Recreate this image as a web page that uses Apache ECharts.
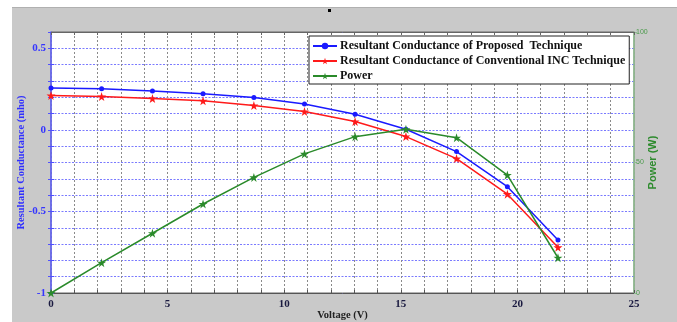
<!DOCTYPE html>
<html>
<head>
<meta charset="utf-8">
<script src="https://cdn.jsdelivr.net/npm/echarts@6/dist/echarts.min.js"></script>
<style>
  html, body { margin: 0; padding: 0; background: #fff; }
  #chart { width: 677px; height: 322px; }
</style>
</head>
<body>
<div id="chart"></div>
<script>
// values
var voltage = [0, 2.17, 4.35, 6.52, 8.7, 10.87, 13.04, 15.22, 17.39, 19.57, 21.74]
var proposed = [0.256, 0.252, 0.239, 0.221, 0.198, 0.158, 0.096, 0.004, -0.133, -0.348, -0.675]
var conventional = [0.21, 0.204, 0.192, 0.178, 0.149, 0.112, 0.051, -0.041, -0.176, -0.394, -0.72]
var power = [0, 11.6, 22.9, 34.1, 44.3, 53.3, 59.9, 62.7, 59.5, 45.2, 13.5]

var seriesNames = [
    'Resultant Conductance of Proposed  Technique',
    'Resultant Conductance of Conventional INC Technique',
    'Power'
]

var star = 'path://M50 0 L61.17 34.63 L97.55 34.55 L68.07 55.87 L79.39 90.45 L50 69 L20.61 90.45 L31.93 55.87 L2.45 34.55 L38.83 34.63 Z'

function pairs(ys) {
    return voltage.map(function (v, i) { return [v, ys[i]] })
}

var serif = '"Liberation Serif", "DejaVu Serif", serif'
var sans = '"Liberation Sans", Arial, sans-serif'

var myChart = echarts.init(document.getElementById('chart'))
myChart.setOption({
    backgroundColor: '#fff',
    animation: false,
    graphic: [
        { type: 'rect', z: -10, shape: { x: 12, y: 7, width: 665, height: 315 }, style: { fill: '#c9c9c9' } },
        { type: 'rect', z: -9, shape: { x: 12, y: 7, width: 665, height: 1 }, style: { fill: '#b0b0b0' } },
        { type: 'rect', shape: { x: 328, y: 9, width: 3, height: 3 }, style: { fill: '#000' } }
    ],
    grid: {
        left: 51, right: 43, top: 32, bottom: 29,
        outerBoundsMode: 'none', containLabel: false,
        show: true, backgroundColor: '#fff', borderColor: '#666', borderWidth: 1
    },
    legend: {
        orient: 'vertical',
        left: 309, top: 36,
        padding: [3, 4, 1, 3],
        itemGap: 1,
        itemWidth: 24, itemHeight: 8,
        backgroundColor: '#fff',
        borderColor: '#222', borderWidth: 1,
        textStyle: { fontFamily: serif, fontWeight: 'bold', fontSize: 12, lineHeight: 14, color: '#111', padding: [0, 0, 0, -2] },
        data: seriesNames
    },
    xAxis: [{
        type: 'value', min: 0, max: 25, interval: 1,
        name: 'Voltage (V)', nameLocation: 'middle', nameGap: 17, nameMoveOverlap: false,
        nameTextStyle: { fontFamily: serif, fontWeight: 'bold', fontSize: 10.5, color: '#222' },
        axisLine: { onZero: false, lineStyle: { color: '#555' } },
        axisTick: { inside: true, length: 3, lineStyle: { color: '#555' } },
        axisLabel: {
            margin: 6, fontFamily: serif, fontWeight: 'bold', fontSize: 11, color: '#1a1a40',
            formatter: function (v) { return v % 5 === 0 ? String(v) : '' }
        },
        splitLine: { show: true, lineStyle: { color: '#8a8a8a', type: [2, 2], width: 1 } }
    }, {
        type: 'value', min: 0, max: 25, interval: 1, position: 'top',
        axisLine: { show: true, onZero: false, lineStyle: { color: '#666' } },
        axisTick: { inside: true, length: 3, lineStyle: { color: '#666' } },
        axisLabel: { show: false },
        splitLine: { show: false }
    }],
    yAxis: [{
        type: 'value', min: -1, max: 0.6, interval: 0.1,
        name: 'Resultant Conductance (mho)', nameLocation: 'middle', nameGap: 24, nameRotate: 90, nameMoveOverlap: false,
        nameTextStyle: { fontFamily: serif, fontWeight: 'bold', fontSize: 10.5, color: '#3030ff' },
        axisLine: { show: true, onZero: false, lineStyle: { color: '#6060ff', width: 1.5 } },
        axisTick: { show: true, inside: true, length: 3, lineStyle: { color: '#5050ff' } },
        axisLabel: {
            margin: 5, fontFamily: serif, fontWeight: 'bold', fontSize: 11, color: '#3535ff',
            showMaxLabel: false,
            formatter: function (v) {
                var r = Math.round(v * 10)
                return r % 5 === 0 ? String(r / 10) : ''
            }
        },
        splitLine: { show: true, lineStyle: { color: '#7a7aff', type: [2, 1.5], width: 1 } }
    }, {
        type: 'value', min: 0, max: 100, interval: 50, position: 'right',
        name: 'Power (W)', nameLocation: 'middle', nameGap: 13, nameRotate: 90, nameMoveOverlap: false,
        nameTextStyle: { fontFamily: sans, fontWeight: 'bold', fontSize: 11, color: '#2e8b2e' },
        axisLine: { show: true, onZero: false, lineStyle: { color: '#8fbf8f', width: 1.5 } },
        axisTick: { show: true, length: 3, lineStyle: { color: '#8fbf8f' } },
        axisLabel: { margin: 2, fontFamily: sans, fontSize: 7, color: '#4a9a4a' },
        splitLine: { show: false }
    }, {
        // mirrored left-axis ticks on the right edge
        type: 'value', min: -1, max: 0.6, interval: 0.1, position: 'right',
        axisLine: { show: false },
        axisTick: { show: true, inside: true, length: 3, lineStyle: { color: '#5050ff' } },
        axisLabel: { show: false },
        splitLine: { show: false }
    }],
    series: [{
        name: seriesNames[0], type: 'line', data: pairs(proposed),
        symbol: 'circle', symbolSize: 5,
        itemStyle: { color: '#1a1aff' },
        lineStyle: { color: '#1a1aff', width: 1.5 }
    }, {
        name: seriesNames[1], type: 'line', data: pairs(conventional),
        symbol: star, symbolSize: 9,
        itemStyle: { color: '#ff1a1a' },
        lineStyle: { color: '#ff1a1a', width: 1.5 }
    }, {
        name: seriesNames[2], type: 'line', data: pairs(power), yAxisIndex: 1,
        symbol: star, symbolSize: 9,
        itemStyle: { color: '#2a8a2a' },
        lineStyle: { color: '#2a8a2a', width: 1.5 }
    }]
})
</script>
</body>
</html>
